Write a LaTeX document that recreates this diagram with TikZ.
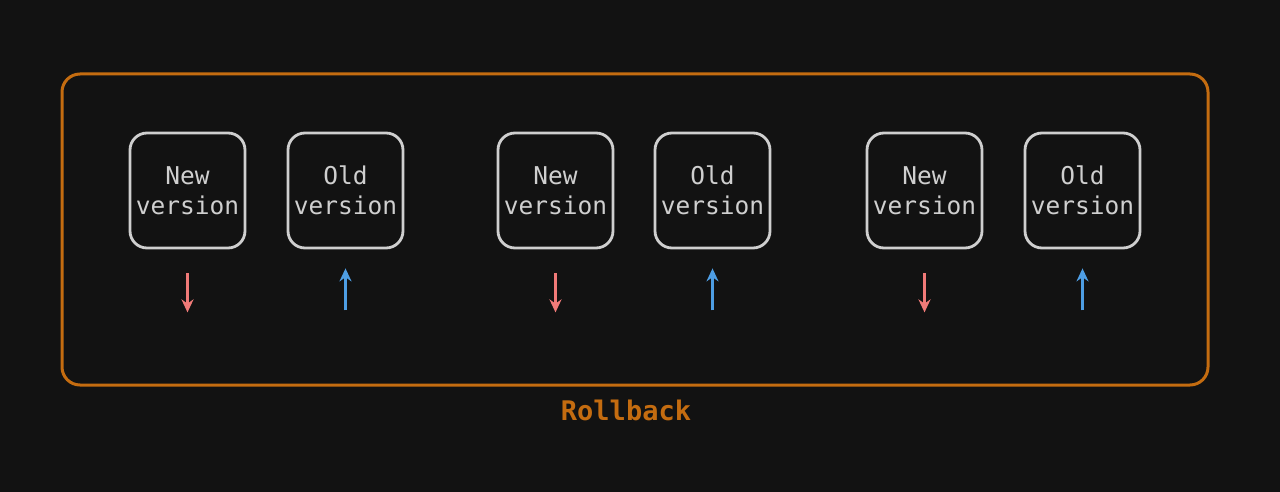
\documentclass[tikz,border=0pt]{standalone}
\usepackage{fontspec}
\setmonofont{DejaVu Sans Mono}
\usetikzlibrary{arrows.meta}
\definecolor{bgdark}{HTML}{121212}
\definecolor{rollorange}{HTML}{C46C10}
\definecolor{boxgrey}{HTML}{CFCFCF}
\definecolor{newred}{HTML}{F07A78}
\definecolor{oldblue}{HTML}{4E9EE4}
\begin{document}
\begin{tikzpicture}[
	         x                = 1pt,
	         y                = -1pt,
	         frame/.style     = {draw=rollorange, line width=3pt, rounded corners=18pt},
	         version/.style   = {draw=boxgrey, line width=2.8pt, rounded corners=17pt,
	                             minimum width=115pt, minimum height=115pt, inner sep=0pt,
	                             text=boxgrey, align=center,
	                             font=\ttfamily\fontsize{24.5}{30}\selectfont},
	         deploy/.style    = {newred, line width=2.8pt, -{Stealth[length=13pt, width=12pt]}},
	         revert/.style    = {oldblue, line width=2.8pt, -{Stealth[length=13pt, width=12pt]}}]
	  \fill [bgdark] (0,0) rectangle (1280,492);
	  \useasboundingbox (0,0) rectangle (1280,492);
	  \draw [frame] (62,74) rectangle (1208,385);
	  \node [text=rollorange, font=\ttfamily\bfseries\fontsize{27}{30}\selectfont] (rollback) at (626,410) {Rollback};
	  \foreach \i/\xn/\xo in {1/187.5/345.5, 2/555.5/712.5, 3/924.5/1082.5} {
	    \node [version] (new\i) at (\xn,190.5) {New\\version};
	    \node [version] (old\i) at (\xo,190.5) {Old\\version};
	    \coordinate (newtop\i) at ([yshift=-24pt]new\i.south);
	    \coordinate (newbot\i) at ([yshift=-63pt]new\i.south);
	    \coordinate (oldtop\i) at ([yshift=-19pt]old\i.south);
	    \coordinate (oldbot\i) at ([yshift=-61pt]old\i.south);
	    \draw [deploy] (newtop\i) -- (newbot\i);
	    \draw [revert] (oldbot\i) -- (oldtop\i);
	  }
	\end{tikzpicture}
\end{document}
